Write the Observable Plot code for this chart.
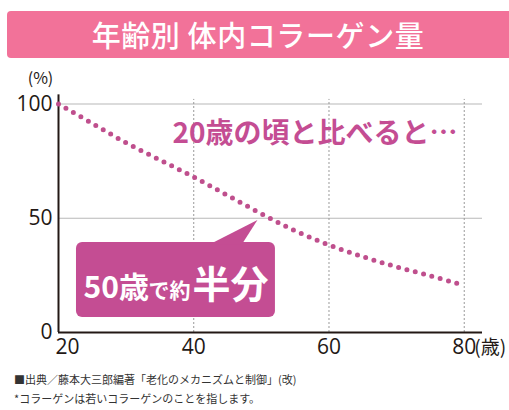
<!DOCTYPE html>
<html><head><meta charset="utf-8">
<script src="https://cdn.jsdelivr.net/npm/d3@7"></script>
<script src="https://cdn.jsdelivr.net/npm/@observablehq/plot@0.6"></script>
<style>
body{margin:0;background:#fff;width:509px;height:410px;position:relative;overflow:hidden;font-family:"Noto Sans CJK JP","Noto Sans",sans-serif}
#title{position:absolute;left:7px;top:11px;width:502px;height:47px;background:#f27299;border-radius:4px 0 0 4px;color:#fff;font-size:29px;font-weight:500;line-height:47px;text-align:center;letter-spacing:0.6px}
#chart{position:absolute;left:0;top:60px}
.note{position:absolute;left:14px;font-size:11px;color:#333;white-space:nowrap}
</style></head>
<body>
<div id="title">年齢別 体内コラーゲン量</div>
<div id="chart"></div>
<div class="note" style="top:371px">■出典／藤本大三郎編著「老化のメカニズムと制御」(改)</div>
<div class="note" style="top:390px">*コラーゲンは若いコラーゲンのことを指します。</div>
<script>
// data
const ages = [20, 25, 30, 35, 40, 45, 50, 55, 60, 65, 70, 75, 80];
const collagen = [100, 91.5, 83, 75.5, 68, 60, 52, 44.5, 38.3, 33.2, 28.7, 24.8, 20.6];
const xTicks = [20, 40, 60, 80];
const yTicks = [0, 50, 100];
const xUnit = "(歳)";
const yUnit = "(%)";
const headline = "20歳の頃と比べると…";
const calloutParts = ["50歳", "で約", "半分"];
// annotation anchors (data units)
const calloutBox = [{x1: 22.66, x2: 52.08, y1: 6.6, y2: 39.4}];
const pointer = [{x: 42.3, y: 38.5}, {x: 49.42, y: 49.2}, {x: 47.1, y: 38.5}];
const headlinePos = [{x: 36.85, y: 86.7}];
const calloutPos = [{x: 23.7, y: 15.3}, {x: 33.3, y: 15.3}, {x: 39.8, y: 15.3}];

const data = ages.map((a, i) => ({age: a, value: collagen[i]}));
const pink = "#c44d93";
const ink = "#231815";
const jp = "'Noto Sans CJK JP', sans-serif";
const num = "'Open Sans', 'Noto Sans', sans-serif";

const plot = Plot.plot({
  width: 509, height: 310,
  marginLeft: 58, marginRight: 27, marginTop: 43.5, marginBottom: 38,
  x: {domain: [20, 82.7], axis: null},
  y: {domain: [0, 100], axis: null},
  style: {background: "transparent", overflow: "visible"},
  marks: [
    Plot.ruleY([50, 100], {x1: 20, x2: 82.7, stroke: "#b8b8b8", strokeWidth: 1.2}),
    Plot.ruleX(xTicks.slice(1), {y1: 0, y2: 102, stroke: "#9a9a9a", strokeWidth: 1, strokeDasharray: "2,2"}),
    Plot.ruleX([20], {y1: 0, y2: 104, stroke: ink, strokeWidth: 2}),
    Plot.ruleY([0], {x1: 20, x2: 82.7, stroke: ink, strokeWidth: 2}),
    Plot.line(data, {x: "age", y: "value", curve: "catmull-rom", stroke: "#bf4f8d", strokeWidth: 5, strokeLinecap: "round", strokeDasharray: "0,8.6"}),
    Plot.rect(calloutBox, {x1: "x1", x2: "x2", y1: "y1", y2: "y2", fill: pink, rx: 6}),
    Plot.line(pointer, {x: "x", y: "y", fill: pink, stroke: null}),
    Plot.text(headlinePos, {x: "x", y: "y", text: () => headline, textAnchor: "start", fill: pink, fontSize: 28, fontWeight: "bold", fontFamily: jp}),
    Plot.text([calloutPos[0]], {x: "x", y: "y", text: () => calloutParts[0], textAnchor: "start", lineAnchor: "bottom", fill: "#fff", fontSize: 30, fontWeight: "bold", fontFamily: jp}),
    Plot.text([calloutPos[1]], {x: "x", y: "y", text: () => calloutParts[1], textAnchor: "start", lineAnchor: "bottom", fill: "#fff", fontSize: 21, fontWeight: "bold", fontFamily: jp}),
    Plot.text([calloutPos[2]], {x: "x", y: "y", text: () => calloutParts[2], textAnchor: "start", lineAnchor: "bottom", fill: "#fff", fontSize: 38, fontWeight: "bold", fontFamily: jp}),
    Plot.text(yTicks, {x: 20, y: d => d, text: d => String(d), textAnchor: "end", dx: -6, fill: ink, fontSize: 21, fontFamily: num}),
    Plot.text([xTicks[0]], {x: d => d, y: 0, text: d => String(d), textAnchor: "start", dx: -3, dy: 15, fill: ink, fontSize: 21, fontFamily: num}),
    Plot.text(xTicks.slice(1), {x: d => d, y: 0, text: d => String(d), dy: 15, fill: ink, fontSize: 21, fontFamily: num}),
    Plot.text([80], {x: d => d, y: 0, text: () => xUnit, textAnchor: "start", dx: 10, dy: 15, fill: ink, fontSize: 19, fontFamily: jp}),
    Plot.text([100], {x: 20, y: d => d, text: () => yUnit, dx: -18, dy: -25, fill: ink, fontSize: 16, fontFamily: jp})
  ]
});
document.getElementById("chart").appendChild(plot);
</script>
</body></html>
